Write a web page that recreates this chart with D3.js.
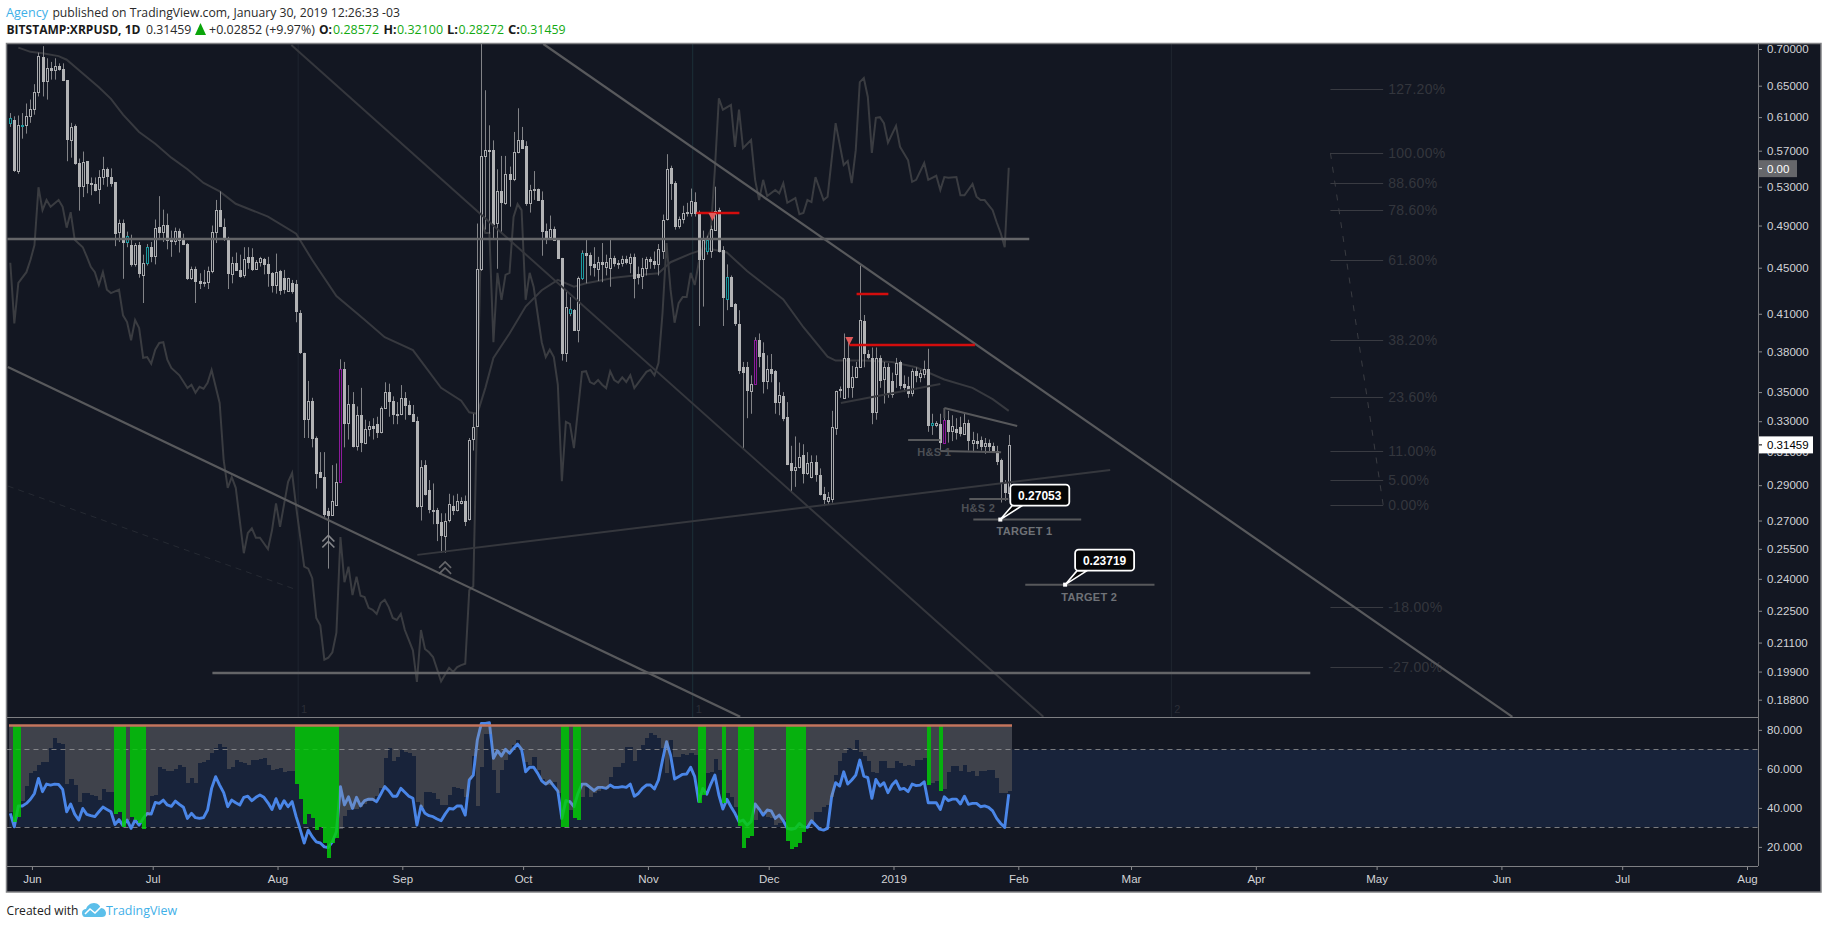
<!DOCTYPE html>
<html><head><meta charset="utf-8">
<script src="https://cdnjs.cloudflare.com/ajax/libs/d3/7.8.5/d3.min.js"></script>
<style>
html,body{margin:0;padding:0;background:#fff;overflow:hidden}
svg{display:block}
.axis text{font-family:"Liberation Sans",Arial,sans-serif;font-size:11.5px;fill:#d2d3d6}
.axis line{stroke:#8a8b8e}
.axis path{display:none}
</style></head><body>
<svg id="c" width="1828" height="928"></svg>
<script>
// ---------- data ----------
const firstBar = Date.UTC(2018,4,27);
// [open, high, low, close], one row per daily bar
const ohlc = [
[.603,.615,.598,.609],[.606,.611,.546,.548],[.547,.612,.544,.600],[.600,.615,.584,.600],[.600,.627,.590,.611],[.611,.632,.603,.620],[.620,.652,.613,.642],[.642,.695,.636,.690],[.689,.704,.636,.657],[.657,.687,.632,.674],
[.674,.682,.658,.671],[.671,.687,.658,.677],[.676,.680,.670,.672],[.672,.680,.656,.657],[.657,.657,.558,.583],[.583,.603,.562,.598],[.599,.601,.554,.556],[.556,.561,.505,.531],[.531,.569,.519,.557],[.558,.558,.523,.534],
[.534,.540,.521,.533],[.533,.540,.525,.527],[.527,.548,.512,.540],[.540,.563,.532,.549],[.549,.551,.530,.541],[.541,.550,.530,.535],[.535,.535,.470,.483],[.484,.496,.474,.493],[.493,.496,.440,.474],[.474,.484,.469,.480],
[.471,.481,.451,.453],[.453,.473,.451,.471],[.471,.474,.441,.445],[.443,.462,.419,.454],[.454,.472,.452,.469],[.469,.474,.455,.461],[.461,.496,.453,.488],[.489,.520,.476,.484],[.484,.506,.474,.491],[.491,.502,.467,.476],
[.476,.485,.460,.475],[.475,.488,.471,.485],[.485,.487,.464,.476],[.476,.482,.471,.472],[.472,.473,.439,.441],[.441,.451,.439,.449],[.449,.451,.419,.438],[.438,.445,.431,.436],[.437,.448,.433,.437],[.437,.451,.431,.447],
[.447,.490,.445,.484],[.484,.516,.473,.506],[.506,.525,.490,.490],[.489,.497,.475,.477],[.477,.479,.431,.445],[.444,.460,.436,.454],[.454,.464,.447,.448],[.448,.462,.441,.443],[.443,.469,.441,.458],[.460,.469,.449,.455],
[.460,.468,.447,.449],[.449,.457,.448,.455],[.455,.460,.451,.459],[.458,.459,.444,.453],[.453,.460,.433,.445],[.445,.446,.428,.434],[.434,.463,.427,.446],[.447,.448,.426,.430],[.441,.448,.427,.431],[.430,.441,.429,.441],
[.436,.439,.427,.429],[.435,.439,.403,.412],[.411,.413,.378,.380],[.379,.379,.319,.332],[.332,.358,.319,.344],[.344,.346,.313,.319],[.319,.320,.288,.297],[.298,.310,.295,.295],[.295,.310,.272,.274],[.275,.277,.245,.273],
[.273,.302,.273,.281],[.279,.303,.279,.292],[.292,.374,.292,.367],[.367,.372,.313,.329],[.329,.355,.318,.342],[.342,.350,.313,.314],[.314,.340,.311,.334],[.334,.353,.310,.316],[.316,.331,.315,.325],[.325,.330,.320,.327],
[.327,.332,.318,.326],[.328,.333,.319,.323],[.323,.340,.322,.339],[.339,.357,.339,.350],[.350,.356,.333,.344],[.344,.347,.328,.335],[.335,.343,.328,.335],[.335,.355,.334,.346],[.346,.350,.331,.341],[.341,.344,.334,.335],
[.335,.341,.330,.330],[.330,.333,.277,.278],[.278,.305,.270,.301],[.302,.305,.284,.285],[.287,.293,.274,.276],[.276,.291,.268,.276],[.276,.277,.259,.269],[.269,.274,.253,.262],[.262,.274,.253,.270],[.270,.285,.269,.279],
[.278,.284,.273,.276],[.276,.285,.275,.281],[.280,.283,.279,.281],[.281,.284,.267,.270],[.271,.319,.270,.318],[.318,.335,.311,.326],[.327,.492,.327,.449],[.449,.78,.447,.564],[.564,.644,.486,.571],[.571,.600,.482,.570],
[.571,.582,.476,.492],[.492,.549,.449,.525],[.525,.564,.482,.513],[.513,.564,.511,.544],[.544,.552,.509,.538],[.538,.592,.536,.568],[.568,.621,.567,.582],[.582,.598,.572,.573],[.576,.581,.510,.513],[.513,.532,.503,.527],
[.527,.547,.516,.528],[.528,.528,.515,.516],[.516,.525,.461,.485],[.485,.492,.472,.479],[.479,.500,.476,.487],[.487,.489,.475,.476],[.476,.477,.459,.459],[.459,.459,.373,.379],[.379,.430,.372,.416],[.411,.424,.408,.414],
[.413,.414,.396,.397],[.397,.442,.387,.441],[.441,.466,.439,.464],[.464,.476,.436,.462],[.462,.464,.443,.453],[.453,.469,.442,.450],[.449,.460,.438,.455],[.455,.473,.437,.453],[.450,.462,.443,.455],[.450,.476,.433,.459],
[.459,.461,.451,.454],[.454,.457,.449,.453],[.454,.461,.451,.458],[.458,.461,.453,.455],[.454,.463,.445,.460],[.460,.463,.423,.441],[.444,.451,.435,.441],[.443,.459,.431,.450],[.450,.460,.443,.458],[.458,.460,.449,.456],
[.456,.465,.449,.453],[.453,.472,.443,.467],[.466,.501,.458,.496],[.496,.566,.495,.549],[.550,.553,.516,.534],[.534,.536,.486,.490],[.490,.499,.487,.497],[.497,.510,.492,.503],[.503,.513,.499,.504],[.503,.528,.499,.515],
[.514,.524,.499,.503],[.503,.505,.400,.458],[.458,.485,.416,.476],[.466,.480,.462,.476],[.466,.490,.459,.487],[.486,.530,.485,.505],[.506,.508,.464,.466],[.466,.470,.400,.424],[.423,.453,.413,.442],[.442,.443,.416,.417],
[.418,.419,.400,.402],[.402,.413,.363,.366],[.368,.372,.312,.364],[.368,.372,.332,.351],[.351,.362,.335,.356],[.356,.391,.356,.389],[.389,.394,.368,.377],[.379,.387,.349,.358],[.358,.377,.352,.367],[.367,.378,.357,.364],
[.365,.366,.335,.343],[.343,.357,.334,.348],[.347,.350,.330,.332],[.333,.343,.302,.303],[.303,.314,.286,.299],[.299,.320,.289,.301],[.301,.316,.300,.307],[.308,.315,.291,.297],[.297,.310,.296,.303],[.295,.308,.294,.304],
[.304,.308,.292,.297],[.296,.300,.284,.285],[.285,.289,.278,.282],[.281,.286,.279,.283],[.282,.337,.280,.326],[.326,.351,.321,.351],[.351,.354,.346,.352],[.346,.394,.346,.375],[.375,.387,.346,.354],[.354,.369,.346,.361],
[.361,.372,.360,.368],[.368,.452,.368,.405],[.404,.409,.368,.379],[.378,.381,.374,.376],[.375,.383,.328,.336],[.336,.383,.331,.375],[.375,.377,.353,.359],[.359,.372,.342,.368],[.368,.371,.346,.349],[.358,.364,.346,.349],
[.363,.375,.353,.371],[.372,.373,.352,.355],[.356,.362,.350,.354],[.354,.361,.346,.349],[.349,.367,.347,.365],[.365,.368,.357,.362],[.361,.366,.357,.364],[.363,.373,.360,.367],[.367,.382,.323,.328],[.328,.335,.321,.329],
[.328,.330,.326,.329],[.328,.335,.311,.316],[.316,.334,.316,.331],[.331,.337,.316,.324],[.324,.334,.317,.327],[.325,.332,.318,.323],[.326,.333,.320,.322],[.322,.336,.321,.329],[.329,.331,.311,.318],[.316,.323,.310,.318],
[.317,.322,.312,.316],[.318,.320,.311,.314],[.314,.319,.309,.316],[.316,.318,.310,.314],[.314,.316,.310,.311],[.311,.314,.302,.305],[.305,.306,.280,.292],[.292,.293,.281,.286],[.28572,.321,.28272,.31459]];
const tealBars = [0,3,29,34,139,142,173,178,229];
const purpleBars = [82,185,232];
// slow average over the candles: [bar, price]
const maLine = [[2,.702],[5,.696],[8,.694],[12,.690],[14,.685],[17,.671],[22,.648],[25,.633],[28,.613],[32,.592],[36,.578],[40,.562],[44,.549],[48,.534],[52,.525],[56,.512],[64,.499],[71,.482],[75,.457],[81,.425],[88,.405],[93,.391],[100,.381],[107,.353],[112,.344],[114,.336],[116,.335],[118,.353],[120,.375],[124,.394],[128,.416],[132,.430],[136,.439],[140,.433],[143,.436],[146,.438],[150,.441],[155,.443],[161,.445],[164,.455],[169,.463],[173,.468],[178,.464],[183,.447],[188,.433],[192,.422],[197,.399],[203,.376],[205,.373],[212,.373],[219,.372],[225,.368],[232,.359],[239,.353],[244,.345],[248,.337]];
// jagged overlay on the main pane, on its own 0-100 scale: [bar, value]
const overlayLine = [[0,67.4],[1,58.4],[2,64.4],[4,66],[5,67.8],[6,70],[7,78.6],[8,75.2],[9,76.7],[10,75.7],[12,76.7],[13,75.7],[14,72.6],[15,74.9],[16,70.8],[18,69.7],[19,68.3],[20,66.8],[21,66],[22,64.1],[23,66],[24,63.4],[25,62.9],[27,63.4],[28,59.6],[29,58.6],[30,55.9],[31,58.9],[32,57.7],[33,53.3],[34,53.4],[35,52.4],[36,54.5],[37,55.5],[38,55.6],[39,53],[40,51.8],[42,50.7],[44,48.8],[45,49.3],[46,48.1],[47,49],[48,48.7],[49,49.6],[50,51.5],[52,46.6],[53,38.1],[54,34],[55,35.6],[56,34],[58,24.3],[59,27.3],[60,28],[61,26.6],[62,26.6],[64,24.9],[65,27.7],[66,31.7],[67,28.2],[69,34.9],[70,36.2],[71,31.2],[73,22.3],[74,22],[75,20.6],[76,14.7],[77,13.6],[78,8.5],[79,8.8],[80,9.6],[81,12.5],[82,26.7],[83,20],[84,22.3],[85,18.1],[86,20.8],[87,18],[88,17.8],[89,16.2],[90,15.9],[91,15.3],[92,16.9],[93,17.4],[94,16.3],[95,14.7],[96,14.4],[97,15.3],[98,12.9],[99,11.4],[100,9.9],[101,5.2],[102,12.9],[103,10.1],[104,9.6],[105,8.9],[107,5.3],[109,7.3],[110,6.7],[111,7.4],[112,7.7],[113,7.9],[114,18.8],[115,19.4],[116,47],[117,73.7],[118,71.8],[119,71.8],[120,55.6],[121,65.9],[122,61.9],[123,65.6],[124,65.9],[125,74.2],[126,76.1],[127,75.2],[128,61.9],[129,65.9],[130,63.8],[132,55.6],[133,53.4],[134,54.5],[135,53.4],[136,49.3],[137,35],[138,43.8],[139,43.5],[140,39.9],[142,51.2],[143,51.3],[144,49.7],[145,49.4],[146,50],[147,49.3],[148,48.8],[149,51.3],[150,50],[151,49.6],[152,50.4],[153,49.7],[154,50.7],[155,48.8],[158,51.2],[159,51.5],[160,50.7],[161,52.5],[162,59.9],[163,70.3],[164,63.4],[165,58.5],[166,61.4],[167,62.3],[168,62.3],[169,65.9],[170,64.1],[171,67.4],[172,69.7],[174,72.3],[175,81.2],[176,91.8],[177,90.1],[179,90.8],[180,84.6],[181,90.1],[182,84.4],[184,85.6],[185,79.7],[186,76.7],[187,79.7],[188,77.3],[190,78.2],[191,77.7],[192,79.2],[193,76.3],[195,77],[196,74.6],[197,74.8],[198,76.7],[199,76.4],[200,80.1],[202,76.7],[203,77.2],[205,88.1],[207,81.9],[208,82.5],[209,79.2],[210,84.1],[211,94.2],[212,94.8],[213,92],[214,83.7],[215,88.9],[216,89],[217,88.1],[218,85.2],[220,87.7],[221,84.6],[223,82.6],[224,79.4],[225,79.7],[227,82.2],[228,79.7],[230,80.3],[231,78.2],[232,80.1],[233,80],[235,80.1],[236,77.4],[237,77.4],[239,79.1],[240,77.2],[241,76.7],[242,76.7],[244,75.2],[245,73.4],[246,71.8],[247,69.7],[248,81.5]];
// lower pane
const rsiValues = [37.2,30.3,41,41,42.3,44.4,47.4,55.1,48.3,52.2,51.7,52.2,52,49.5,38,42,36.8,33.8,39.7,36.7,36,35.5,38,40.4,39.2,38,31.5,34,30.9,33.8,29.5,33.8,31.2,34.6,37.2,36.8,42.8,42.3,44,41.5,40.8,43.5,41.8,40.3,34.6,37.2,35,34.6,35,38.9,50,56,51.7,47.8,40.6,44,42.6,41.5,45.4,46,43.7,45.4,46.6,45.4,42.6,39.2,44.7,39.7,43.7,40.6,43.2,35.5,29,22,28.6,25.2,22.6,22,20,19.7,22.6,27.8,50.9,41.5,45.7,39.7,45.4,41,43.7,44.5,44.4,43.2,47,50.9,48.8,46,46,50,48,46,44.9,31.2,41,37.2,36,35.5,34.3,33.4,36.8,39.7,39.4,41,41,36.3,54.3,56.8,74.8,83.3,83.3,83.7,65.4,69.3,66.6,70,68,70.5,72.7,70,58.5,60.8,60.8,57.7,53.9,52.2,53.9,51.2,48.6,34.6,43.7,43.2,40.6,47.4,52.2,52.2,50.5,48.8,50.5,50.5,50,51.7,50.5,50.5,50.9,50.5,52.2,46,47.4,50,51.7,51.7,49.7,54.3,64.5,73.9,67,54.8,56,57.2,57.4,60.8,56,43.2,50,47,52.2,56.8,46.6,39.4,44.4,40.6,37.2,32.9,33.8,31.2,32.9,42,39.4,36.3,38.9,38.5,34.6,36.3,33.4,29.5,29,29.5,32,30.3,30,33.4,31.2,29.1,28.6,29.5,45.7,52.9,51.2,58.5,52.2,54.3,56.8,64.5,56.3,55.5,44.9,54.6,51.2,52.9,47.8,51.7,53.9,49.5,50,48.3,52.2,51.4,51.7,53.4,42.6,42.6,42.6,39.2,45.7,43.7,44.5,44.5,42,46,41.8,42.3,42.3,40.6,41,40.3,38.5,34.6,32,30,47];
const histValues = [38,32.9,35.5,43.7,51.2,57.7,58.9,62,63.7,63.7,70.5,75.6,73.4,73,52.2,55,51.7,43,47.4,47.4,46.6,46,44,49.5,48,48,37,38,30,34,35.5,33.8,32,29,36,46,46.6,60.8,59.7,58.9,58.9,59.7,62,61,53,55.5,53,62.8,63.7,64.5,68,70.9,73,71.4,60,61,64.5,63.7,62.8,62,64.5,64.5,64.9,65.4,62,59.4,59.7,60.3,58.5,58.9,58.9,52.2,44.5,31.7,36.8,35,28.6,30,22,14.4,22,24.4,29,35.8,38.9,39.2,39.2,40.6,42,43.7,43.7,46,50,65.4,70.5,64.2,66.2,69.7,68.8,68,66.6,43,40.6,48.3,48.3,47.4,44.4,41.5,41.5,46.6,50.5,50,49.5,45.7,55,66.6,41,61,78,78,59.4,47.4,59.4,64.5,68.8,72.2,74.8,69.7,63.7,62,66.2,59.4,55,51.7,51.7,53.4,47.4,30,30,38.9,35,33.8,45.4,50.5,45.7,47.4,48.8,50,49.5,56,60.8,60.8,63,71.4,71.4,64,69.7,72,75.6,78.2,77.4,75.6,70.5,57.7,74.8,66.2,66.2,67.6,67,68,67,42.6,46.6,57.7,58.5,64.9,59.4,42.6,47.4,45.4,40.6,30.9,19.6,24.4,25.6,33.8,38.9,37.2,35.5,34.6,31,32,33.8,23.2,18.9,20,22,27.8,31,33.4,38,38,40.6,41.5,45.7,56.8,64.2,68,70.5,70,74.8,68.8,66.6,64.2,58.5,57.7,64.2,64.2,60.3,60.3,64.2,62.8,61.5,62,61.5,64.5,64.5,65.4,51.7,52.6,54,48.6,49.5,58.5,61.5,61.5,59,62,58.5,59,56.3,59,59,59.4,59.4,55.5,47.4,47.4,48.6];
const greenBars = [1,2,26,27,28,30,31,32,33,71,72,73,74,75,76,77,78,79,80,81,137,138,140,141,171,172,177,181,182,183,184,193,194,195,196,197,228,231];
const histCeiling = 82.3, bandTop = 70, bandBottom = 30;
// trend lines: [bar1, price1, bar2, price2]
const thickLines = [[-.6,.3682,181.3,.1816],[132.4,.7071,373.1,.1816]];
const thinLines = [[69.8,.7057,256.6,.1816],[101.1,.2519,273.2,.2990],[206.3,.3424,231,.3558]];
const levelLines = [[-.7,.4768,253.1,.4768],[50.2,.1984,322.9,.1984]];
const patternLines = [[232,.3389,250.1,.3268],[232,.3389,232,.3322],[223,.3177,231,.3177],[231,.3107,246.1,.31],[238.2,.282,247.9,.282],[239.2,.27053,266,.27053],[252.1,.23719,284.2,.23719]];
const redLines = [[170.4,.5026,181.1,.5026],[210.2,.4267,218.1,.4267],[208.4,.3849,239.6,.3849]];
const redMarkers = [[174.4,.4985],[208.4,.388]];
const upChevrons = [[79,.2583,"#85868a"],[108,.2449,"#66676b"]];
const drawnLabels = [["H&S 1",229.5,.31,"#4c4f55"],["H&S 2",240.4,.277,"#4c4f55"],["TARGET 1",251.9,.2643,"#6f7277"],["TARGET 2",268,.2315,"#6f7277"]];
const callouts = [[245.9,.27053],[262,.23719]];
const fadedDash = [-.6,.2895,70.3,.2353];
const fibLabels = ["127.20%","100.00%","88.60%","78.60%","61.80%","38.20%","23.60%","11.00%","5.00%","0.00%","-18.00%","-27.00%"];
const fibPrices = [.6457,.5674,.534,.5056,.4571,.3889,.3465,.3107,.2931,.2787,.2269,.2008];
const fibBars = [327.9,341];
const sessionMarks = [[71.5,"1","#1f2530"],[169.5,"1","#1c3038"],[288.4,"2","#1f2530"]];
const priceTicks = [.70,.65,.61,.57,.53,.49,.45,.41,.38,.35,.33,.31,.29,.27,.255,.24,.225,.211,.199,.188];
const rsiTicks = [80,60,40,20];
const monthTicks = [[2018,5,"Jun"],[2018,6,"Jul"],[2018,7,"Aug"],[2018,8,"Sep"],[2018,9,"Oct"],[2018,10,"Nov"],[2018,11,"Dec"],[2019,0,"2019"],[2019,1,"Feb"],[2019,2,"Mar"],[2019,3,"Apr"],[2019,4,"May"],[2019,5,"Jun"],[2019,6,"Jul"],[2019,7,"Aug"]];
const lastPrice = .31459, zeroPrice = .5497;

// ---------- layout ----------
const paneLeft=6.5, paneTop=43.5, axisX=1758, rightEdge=1821, mainBottom=717, indBottom=866, frameBottom=892;
const BG="#131722", BAND="#18233a";
const svg=d3.select("#c");
const day=864e5;
const barDate=i=>new Date(firstBar+i*day);
const xTime=d3.scaleUtc().domain([new Date(firstBar),new Date(Date.UTC(2019,1,1))]).range([10.3,1016.8]);
const X=i=>xTime(barDate(i));
const yP=d3.scaleLog().domain([.70,.188]).range([49,699.7]);
const yO=d3.scaleLinear().domain([0,100]).range([717,43]);
const yI=d3.scaleLinear().domain([10.2,86.6]).range([866,717]);

const defs=svg.append("defs");
defs.append("clipPath").attr("id","cm").append("rect").attr("x",paneLeft).attr("y",paneTop).attr("width",axisX-paneLeft).attr("height",mainBottom-paneTop);
defs.append("clipPath").attr("id","ci").append("rect").attr("x",paneLeft).attr("y",mainBottom).attr("width",axisX-paneLeft).attr("height",indBottom-mainBottom);

svg.append("rect").attr("x",paneLeft).attr("y",paneTop).attr("width",rightEdge-paneLeft).attr("height",frameBottom-paneTop).attr("fill",BG);

// ---------- main pane ----------
const m=svg.append("g").attr("clip-path","url(#cm)");
m.selectAll(".sess").data(sessionMarks).join("line").attr("x1",d=>X(d[0])).attr("x2",d=>X(d[0])).attr("y1",paneTop).attr("y2",mainBottom).attr("stroke",d=>d[2]);
m.selectAll(".sesst").data(sessionMarks).join("text").attr("x",d=>X(d[0])+6).attr("y",713).attr("text-anchor","middle").attr("font-family","Liberation Sans").attr("font-size",11).attr("fill","#2b2e37").text(d=>d[1]);
// faint dashed trend
m.append("line").attr("x1",X(fadedDash[0])).attr("y1",yP(fadedDash[1])).attr("x2",X(fadedDash[2])).attr("y2",yP(fadedDash[3])).attr("stroke","#262a33").attr("stroke-dasharray","6 5");
// fib
const fib=m.append("g");
fib.selectAll("line").data(fibPrices).join("line").attr("x1",X(fibBars[0])).attr("x2",X(fibBars[1])).attr("y1",d=>Math.round(yP(d))+.5).attr("y2",d=>Math.round(yP(d))+.5).attr("stroke","#393b42");
fib.selectAll("text").data(fibLabels).join("text").attr("x",X(fibBars[1])+5).attr("y",(d,i)=>yP(fibPrices[i])+5).attr("font-family","Liberation Sans").attr("font-size",14).attr("letter-spacing",.3).attr("fill","#33363d").text(d=>d);
m.append("line").attr("x1",X(fibBars[0])).attr("y1",yP(fibPrices[1])).attr("x2",X(fibBars[1])).attr("y2",yP(fibPrices[9])).attr("stroke","#3a3c42").attr("stroke-dasharray","6 8");
// overlays
const lineGen=d3.line();
m.append("path").attr("d",lineGen(overlayLine.map(d=>[X(d[0]),yO(d[1])]))).attr("fill","none").attr("stroke","#3a3c41").attr("stroke-width",2);
m.append("path").attr("d",lineGen(maLine.map(d=>[X(d[0]),yP(d[1])]))).attr("fill","none").attr("stroke","#37393f").attr("stroke-width",2);
// candles
const candleData=ohlc.map((r,i)=>({i,o:r[0],h:r[1],l:r[2],c:r[3]}));
const cg=m.append("g");
const px=i=>Math.round(X(i))+.5;
cg.selectAll(".w").data(candleData).join("line").attr("x1",d=>px(d.i)).attr("x2",d=>px(d.i)).attr("y1",d=>yP(d.h)).attr("y2",d=>yP(d.l)).attr("stroke","#828387");
cg.selectAll(".b").data(candleData).join("rect")
  .attr("x",d=>px(d.i)-1).attr("width",2)
  .attr("y",d=>Math.round(yP(Math.max(d.o,d.c)))+.5)
  .attr("height",d=>Math.max(1,Math.round(Math.abs(yP(d.o)-yP(d.c)))))
  .attr("fill",d=>{const up=d.c>=d.o; if(tealBars.includes(d.i)||purpleBars.includes(d.i)||up) return BG; return "#b2b3b5";})
  .attr("stroke",d=>tealBars.includes(d.i)?"#1c9aa0":purpleBars.includes(d.i)?"#8d1b9c":d.c>=d.o?"#a9aaad":"#b2b3b5")
  .attr("stroke-width",1);
// drawings
const seg=(g,data,color,w)=>g.selectAll(null).data(data).join("line").attr("x1",d=>X(d[0])).attr("y1",d=>yP(d[1])).attr("x2",d=>X(d[2])).attr("y2",d=>yP(d[3])).attr("stroke",color).attr("stroke-width",w);
const dr=m.append("g");
seg(dr,thinLines,"#35373d",2);
seg(dr,levelLines,"#646568",2.6);
seg(dr,thickLines,"#58595c",2.2);
seg(dr,patternLines,"#57585b",2);
seg(dr,redLines,"#d30d0d",2.5);
dr.selectAll(".tri").data(redMarkers).join("path").attr("transform",d=>`translate(${X(d[0])},${yP(d[1])})`).attr("d","M-4,-4L4,-4L0,4Z").attr("fill","#e05a5a");
dr.selectAll(".chev").data(upChevrons).join("path").attr("transform",d=>`translate(${X(d[0])},${yP(d[1])})`).attr("d","M-6,-1L0,-7L6,-1M-6,5L0,-1L6,5").attr("fill","none").attr("stroke",d=>d[2]).attr("stroke-width",1.6);
dr.selectAll(".lab").data(drawnLabels).join("text").attr("x",d=>X(d[1])).attr("y",d=>yP(d[2])+4).attr("text-anchor","middle").attr("font-family","Liberation Sans").attr("font-weight","bold").attr("font-size",11).attr("letter-spacing",.3).attr("fill",d=>d[3]).text(d=>d[0]);
// callouts
const co=dr.selectAll(".co").data(callouts).join("g").attr("transform",d=>`translate(${X(d[0])},${yP(d[1])})`);
co.append("path").attr("d","M0,0L12,-14L22,-14Z").attr("fill","#050505").attr("stroke","#fff").attr("stroke-width",1.6);
co.append("rect").attr("x",10).attr("y",-35).attr("width",59).attr("height",21).attr("rx",3.5).attr("fill","#050608").attr("stroke","#fff").attr("stroke-width",1.8);
co.append("rect").attr("x",-2).attr("y",-2).attr("width",4).attr("height",4).attr("fill","#fff");
co.append("text").attr("x",39.5).attr("y",-20).attr("text-anchor","middle").attr("font-family","Liberation Sans").attr("font-weight","bold").attr("font-size",12).attr("fill","#fff").text(d=>d[1].toFixed(5));

// ---------- lower pane ----------
const ind=svg.append("g").attr("clip-path","url(#ci)");
const colX=i=>Math.round(X(i)-1.2);
const colW=i=>colX(i+1)-colX(i);
const barEnd=colX(ohlc.length);
ind.append("rect").attr("x",barEnd).attr("width",axisX-barEnd).attr("y",yI(bandTop)).attr("height",yI(bandBottom)-yI(bandTop)).attr("fill",BAND);
const hist=histValues.map((v,i)=>({v,i}));
ind.selectAll(".n").data(hist.filter(d=>d.v>bandBottom)).join("rect").attr("shape-rendering","crispEdges").attr("x",d=>colX(d.i)).attr("width",d=>colW(d.i)).attr("y",d=>yI(d.v)).attr("height",d=>yI(bandBottom)-yI(d.v)).attr("fill",BAND);
const dashAt=(v)=>ind.append("line").attr("x1",paneLeft).attr("x2",axisX).attr("y1",Math.round(yI(v))+.5).attr("y2",Math.round(yI(v))+.5).attr("stroke","#7a7b7e").attr("stroke-dasharray","5 4");
dashAt(bandTop);dashAt(bandBottom);
ind.append("path").attr("d",d3.line().x((d,i)=>X(i)).y(d=>yI(d))(rsiValues)).attr("fill","none").attr("stroke","#4a86e8").attr("stroke-width",2.9).attr("stroke-linejoin","round");
ind.selectAll(".g").data(hist.filter(d=>!greenBars.includes(d.i))).join("rect").attr("shape-rendering","crispEdges").attr("x",d=>colX(d.i)).attr("width",d=>colW(d.i)).attr("y",yI(histCeiling)).attr("height",d=>yI(d.v)-yI(histCeiling)).attr("fill","rgba(150,150,155,.34)");
ind.selectAll(".gr").data(hist.filter(d=>greenBars.includes(d.i))).join("rect").attr("shape-rendering","crispEdges").attr("x",d=>colX(d.i)).attr("width",d=>colW(d.i)).attr("y",yI(histCeiling)).attr("height",d=>yI(d.v)-yI(histCeiling)).attr("fill","rgba(5,205,10,.85)");
ind.append("line").attr("x1",colX(0)).attr("x2",barEnd).attr("y1",yI(histCeiling)).attr("y2",yI(histCeiling)).attr("stroke","#c4755c").attr("stroke-width",2.5);

// ---------- axes ----------
const monthDates=monthTicks.map(d=>new Date(Date.UTC(d[0],d[1],1)));
svg.append("g").attr("class","axis").attr("transform",`translate(1.5,${indBottom})`)
  .call(d3.axisBottom(xTime).tickValues(monthDates).tickFormat((d,i)=>monthTicks[i][2]).tickSize(4).tickPadding(5));
svg.append("g").attr("class","axis").attr("transform",`translate(${axisX},0)`)
  .call(d3.axisRight(yP).tickValues(priceTicks).tickFormat(d3.format(".5f")).tickSize(4).tickPadding(5));
svg.append("g").attr("class","axis").attr("transform",`translate(${axisX},0)`)
  .call(d3.axisRight(yI).tickValues(rsiTicks).tickFormat(d3.format(".3f")).tickSize(4).tickPadding(5));
// price tags
const tag=(p,text,fill,col,w)=>{const g=svg.append("g").attr("transform",`translate(${axisX},${yP(p)})`);
  g.append("rect").attr("y",-8.5).attr("width",w).attr("height",17).attr("fill",fill);
  g.append("line").attr("x2",4).attr("stroke",col);
  g.append("text").attr("x",9).attr("y",4).attr("font-family","Liberation Sans").attr("font-size",11.5).attr("fill",col).text(text);};
tag(zeroPrice,"0.00","#66676b","#fff",39);
tag(lastPrice,lastPrice.toFixed(5),"#fff","#000",55);

// frame and separators
const frameG=svg.append("g").attr("stroke","#808184").attr("fill","none");
frameG.append("rect").attr("x",paneLeft).attr("y",paneTop).attr("width",rightEdge-paneLeft).attr("height",frameBottom-paneTop).attr("stroke-width",1.5);
frameG.append("line").attr("x1",paneLeft).attr("x2",axisX).attr("y1",mainBottom+.5).attr("y2",mainBottom+.5).attr("stroke","#7e7f83");
frameG.append("line").attr("x1",paneLeft).attr("x2",axisX).attr("y1",indBottom+.5).attr("y2",indBottom+.5).attr("stroke","#7e7f83");
frameG.append("line").attr("x1",axisX+.5).attr("x2",axisX+.5).attr("y1",paneTop).attr("y2",indBottom).attr("stroke","#77787b");

// ---------- header & footer ----------
const F='"Open Sans","Noto Sans",sans-serif';
const t=(s,x,x2,y,col,bold)=>svg.append("text").attr("x",x).attr("y",y).attr("font-family",F).attr("font-size",13).attr("font-weight",bold?"700":"400").attr("fill",col).attr("textLength",x2-x).attr("lengthAdjust","spacingAndGlyphs").text(s);
t("Agency",6,48,17,"#3fb0e8");
t("published on TradingView.com, January 30, 2019 12:26:33 -03",52.4,400,17,"#2a2a2a");
const G="#12a912",K="#1a1a1a";
t("BITSTAMP:XRPUSD, 1D",6.5,140.5,34,K,true);
t("0.31459",146,191.4,34,"#2a2a2a");
svg.append("path").attr("d","M195,35L200.5,23L206,35Z").attr("fill","#0aa50a");
t("+0.02852 (+9.97%)",209,315,34,"#2a2a2a");
t("O:",319,332,34,K,true); t("0.28572",333,379,34,G);
t("H:",383.5,396.5,34,K,true); t("0.32100",397,443,34,G);
t("L:",447,458,34,K,true); t("0.28272",458.5,504,34,G);
t("C:",508,520,34,K,true); t("0.31459",520,565.6,34,G);
t("Created with",6.5,78.5,915,"#222");
t("TradingView",106,177,915,"#3fb0e8");
const logo=svg.append("g").attr("transform","translate(82,906)");
logo.append("path").attr("d","M0,7C0,4 2,3 4,3C5,0 8,-3 12,-3C16,-3 18,0 19,2C22,2 24,5 24,7C24,10 22,11 20,11L3,11C1,11 0,9 0,7Z").attr("fill","#5cbfea");
logo.append("path").attr("d","M3,8L8,3L13,7L20,0").attr("fill","none").attr("stroke","#fff").attr("stroke-width",1.6);
</script>
</body></html>
